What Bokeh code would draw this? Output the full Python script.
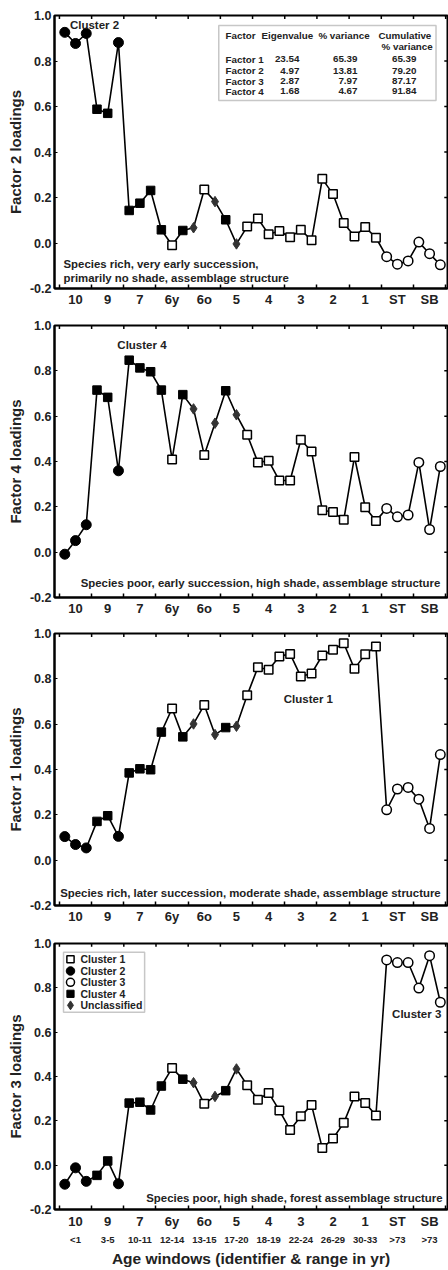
from bokeh.plotting import figure
from bokeh.models import (FixedTicker, LinearAxis, Range1d, Label, BoxAnnotation,
                          NumeralTickFormatter, ColumnDataSource)
from bokeh.layouts import column
from bokeh.embed import file_html
from bokeh.resources import INLINE

# ---------------- data ----------------
categories = ["10", "9", "7", "6y", "6o", "5", "4", "3", "2", "1", "ST", "SB"]
age_ranges = ["<1", "3-5", "10-11", "12-14", "13-15", "17-20", "18-19", "22-24",
              "26-29", "30-33", ">73", ">73"]
sites_per_window = 3

cluster = ["C2", "C2", "C2", "C4", "C4", "C2", "C4", "C4", "C4", "C4", "C1", "C4",
           "U", "C1", "U", "C4", "U",
           "C1", "C1", "C1", "C1", "C1", "C1", "C1", "C1", "C1", "C1", "C1", "C1", "C1",
           "C3", "C3", "C3", "C3", "C3", "C3"]

factor2 = [0.926, 0.877, 0.921, 0.588, 0.570, 0.881, 0.143, 0.175, 0.231, 0.058,
           -0.010, 0.055, 0.067, 0.235, 0.182, 0.102, -0.004, 0.072, 0.108, 0.038,
           0.053, 0.025, 0.058, 0.012, 0.282, 0.215, 0.088, 0.029, 0.070, 0.023,
           -0.060, -0.093, -0.079, 0.004, -0.047, -0.096]
factor4 = [-0.009, 0.051, 0.121, 0.715, 0.683, 0.359, 0.847, 0.813, 0.796, 0.715,
           0.409, 0.695, 0.632, 0.429, 0.569, 0.712, 0.606, 0.518, 0.396, 0.403,
           0.316, 0.316, 0.496, 0.444, 0.185, 0.177, 0.143, 0.420, 0.198, 0.138,
           0.193, 0.156, 0.164, 0.396, 0.100, 0.378]
factor1 = [0.104, 0.069, 0.054, 0.171, 0.196, 0.105, 0.385, 0.403, 0.399, 0.565,
           0.669, 0.544, 0.601, 0.685, 0.554, 0.585, 0.591, 0.728, 0.851, 0.840,
           0.899, 0.910, 0.810, 0.824, 0.903, 0.928, 0.957, 0.844, 0.909, 0.943,
           0.222, 0.314, 0.321, 0.269, 0.140, 0.466]
factor3 = [-0.086, -0.012, -0.073, -0.046, 0.019, -0.084, 0.280, 0.284, 0.249, 0.357,
           0.438, 0.388, 0.372, 0.277, 0.310, 0.336, 0.434, 0.361, 0.295, 0.326,
           0.247, 0.159, 0.221, 0.271, 0.077, 0.120, 0.191, 0.310, 0.281, 0.224,
           0.926, 0.914, 0.914, 0.799, 0.945, 0.735]

table_factors = ["Factor 1", "Factor 2", "Factor 3", "Factor 4"]
table_eigen = ["23.54", "4.97", "2.87", "1.68"]
table_pct = ["65.39", "13.81", "7.97", "4.67"]
table_cum = ["65.39", "79.20", "87.17", "91.84"]

y_ticks = [-0.2, 0.0, 0.2, 0.4, 0.6, 0.8, 1.0]

cluster_order = ["C1", "C2", "C3", "C4", "U"]
cluster_names = {"C1": "Cluster 1", "C2": "Cluster 2", "C3": "Cluster 3",
                 "C4": "Cluster 4", "U": "Unclassified"}
cluster_style = {
    "C1": dict(marker="square", fill_color="white", line_color="black", size=8.5, line_width=1.5),
    "C2": dict(marker="circle", fill_color="black", line_color="black", size=10, line_width=1),
    "C3": dict(marker="circle", fill_color="white", line_color="black", size=9.5, line_width=1.5),
    "C4": dict(marker="square", fill_color="black", line_color="black", size=8.5, line_width=1),
    "U": dict(marker="diamond", fill_color="#333333", line_color="#333333", size=10.5, line_width=1),
}

FONT = "Liberation Sans"
TXT = "#222222"
X0, X1 = -0.96, 35.67

n_sites = len(cluster)
site = list(range(n_sites))
centers = [sites_per_window * k + 1 for k in range(len(categories))]
bounds = [sites_per_window * k - 0.5 for k in range(len(categories) + 1)]


def lab(p, x, y, text, size="11px", align="left", baseline="middle", color=TXT):
    p.add_layout(Label(x=x, y=y, text=text, text_font=FONT, text_font_size=size,
                       text_font_style="bold", text_color=color, text_align=align,
                       text_baseline=baseline))


def make_panel(values, ylabel, top_b, frame_h, bot_b, last=False):
    p = figure(width=448, height=top_b + frame_h + bot_b, output_backend="svg",
               toolbar_location=None,
               x_range=Range1d(X0, X1), y_range=Range1d(-0.2, 1.0),
               min_border_left=54, min_border_right=1, min_border_top=top_b,
               min_border_bottom=bot_b)
    p.grid.visible = False
    p.outline_line_color = "black"
    p.outline_line_width = 2
    p.background_fill_color = "white"
    p.border_fill_color = "white"

    # bottom axis: categories
    xa = p.xaxis[0]
    xa.ticker = FixedTicker(ticks=centers, minor_ticks=bounds)
    xa.major_label_overrides = {c: lbl for c, lbl in zip(centers, categories)}
    xa.major_tick_in = 0
    xa.major_tick_out = 0
    xa.minor_tick_in = 4
    xa.minor_tick_out = 0
    xa.minor_tick_line_width = 1.5
    xa.axis_line_width = 2
    xa.major_label_standoff = 4 if last else 3
    xa.major_label_text_font = FONT
    xa.major_label_text_font_style = "bold"
    xa.major_label_text_font_size = "13px"
    xa.major_label_text_color = TXT

    ya = p.yaxis[0]
    ya.ticker = FixedTicker(ticks=y_ticks)
    ya.formatter = NumeralTickFormatter(format="0.0")
    ya.major_tick_in = 3
    ya.major_tick_out = 0
    ya.minor_tick_line_color = None
    ya.axis_line_width = 2
    ya.major_label_standoff = 3
    ya.major_label_text_font = FONT
    ya.major_label_text_font_style = "bold"
    ya.major_label_text_font_size = "12.5px"
    ya.major_label_text_color = TXT
    ya.axis_label = ylabel
    ya.axis_label_text_font = FONT
    ya.axis_label_text_font_style = "bold"
    ya.axis_label_text_font_size = "15px"
    ya.axis_label_text_color = TXT
    ya.axis_label_standoff = 3

    # inward ticks on the top and right frame edges
    p.segment(x0=bounds, x1=bounds, y0=[1.0] * len(bounds), y1=[0.985] * len(bounds),
              line_color="black", line_width=1.5)
    p.segment(x0=[X1] * len(y_ticks), x1=[X1 - 0.3] * len(y_ticks), y0=y_ticks, y1=y_ticks,
              line_color="black", line_width=1.5)

    if last:
        sub = LinearAxis(ticker=FixedTicker(ticks=centers),
                         major_label_overrides={c: r for c, r in zip(centers, age_ranges)},
                         major_tick_in=0, major_tick_out=0, axis_line_color=None,
                         minor_tick_line_color=None,
                         major_label_standoff=2,
                         major_label_text_font=FONT, major_label_text_font_style="bold",
                         major_label_text_font_size="9.5px", major_label_text_color=TXT,
                         axis_label="Age windows (identifier & range in yr)",
                         axis_label_text_font=FONT, axis_label_text_font_style="bold",
                         axis_label_text_font_size="15.5px", axis_label_text_color=TXT,
                         axis_label_standoff=2)
        p.add_layout(sub, "below")

    p.line(site, values, line_color="black", line_width=1.6)
    for c in cluster_order:
        idx = [i for i in site if cluster[i] == c]
        src = ColumnDataSource(dict(x=[site[i] for i in idx], y=[values[i] for i in idx]))
        p.scatter("x", "y", source=src, **cluster_style[c])
    return p


p1 = make_panel(factor2, "Factor 2 loadings", 15, 273, 30)
p2 = make_panel(factor4, "Factor 4 loadings", 7, 272, 29)
p3 = make_panel(factor1, "Factor 1 loadings", 7, 272, 30)
p4 = make_panel(factor3, "Factor 3 loadings", 8, 271, 55, last=True)

BODY = "11.4px"
CL = "11.5px"
# ---- panel 1 annotations ----
lab(p1, 2.77, 0.96, "Cluster 2", size=CL, align="center")
lab(p1, -0.12, -0.094, "Species rich, very early succession,", size=BODY)
lab(p1, -0.12, -0.152, "primarily no shade, assemblage structure", size=BODY)
p1.add_layout(BoxAnnotation(left=14.35, right=34.6, top=0.956, bottom=0.626,
                            fill_color="white", fill_alpha=1, line_color="#444444",
                            line_width=1.5, level="underlay"))
TS = "9.8px"
lab(p1, 14.98, 0.912, "Factor", size=TS)
lab(p1, 18.33, 0.912, "Eigenvalue", size=TS)
lab(p1, 23.64, 0.912, "% variance", size=TS)
lab(p1, 29.24, 0.912, "Cumulative", size=TS)
lab(p1, 29.52, 0.864, "% variance", size=TS)
row_y = [0.807, 0.758, 0.710, 0.666]
for fy, f, e, pc, cu in zip(row_y, table_factors, table_eigen, table_pct, table_cum):
    lab(p1, 14.98, fy, f, size=TS)
    lab(p1, 21.87, fy, e, size=TS, align="right")
    lab(p1, 27.28, fy, pc, size=TS, align="right")
    lab(p1, 32.78, fy, cu, size=TS, align="right")

# ---- panel 2 ----
lab(p2, 7.19, 0.916, "Cluster 4", size=CL, align="center")
lab(p2, 18.24, -0.138, "Species poor, early succession, high shade, assemblage structure",
    size=BODY, align="center")

# ---- panel 3 ----
lab(p3, 22.7, 0.713, "Cluster 1", size=CL, align="center")
lab(p3, 17.3, -0.147, "Species rich, later succession, moderate shade, assemblage structure",
    size=BODY, align="center")

# ---- panel 4 ----
lab(p4, 32.8, 0.681, "Cluster 3", size=CL, align="center")
lab(p4, 21.4, -0.147, "Species poor, high shade, forest assemblage structure",
    size=BODY, align="center")

# key box (legend) in panel 4
p4.add_layout(BoxAnnotation(left=-0.12, right=7.44, top=0.960, bottom=0.690,
                            fill_color="white", fill_alpha=1, line_color="#444444",
                            line_width=1.5, level="underlay"))
key_rows = [0.929, 0.876, 0.825, 0.773, 0.721]
for ky, c in zip(key_rows, cluster_order):
    st = dict(cluster_style[c])
    st["size"] = st["size"] * 0.85
    p4.scatter([0.53], [ky], **st)
    lab(p4, 1.46, ky, cluster_names[c], size="10.5px")

layout = column(p1, p2, p3, p4, spacing=0)
open("out.html", "w").write(file_html(layout, INLINE))
